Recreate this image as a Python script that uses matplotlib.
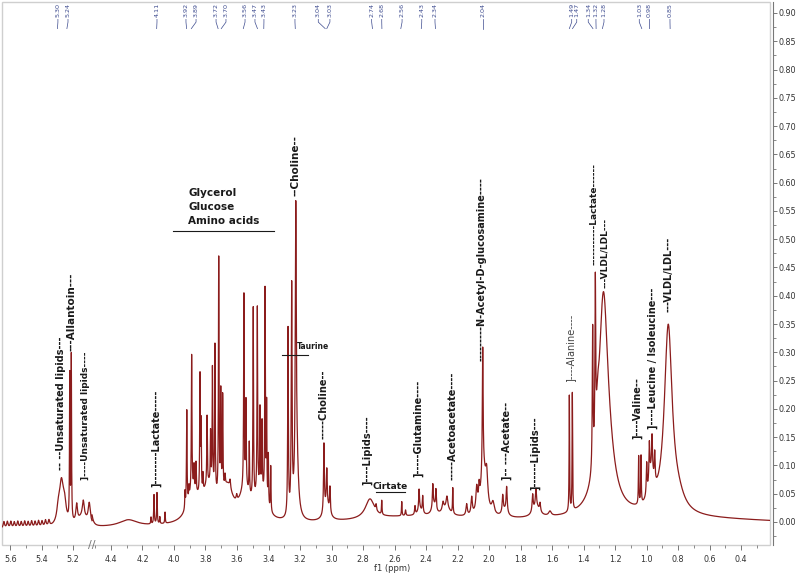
import numpy as np
import matplotlib
matplotlib.use('Agg')
import matplotlib.pyplot as plt
from matplotlib.patches import Rectangle

# ---- spectrum lines: (ppm, height, half width) ----
ripple_lines = [(5.640, 0.011, 0.005), (5.618, 0.011, 0.005), (5.596, 0.011, 0.005),
                (5.574, 0.010, 0.005), (5.552, 0.011, 0.005), (5.530, 0.010, 0.005),
                (5.508, 0.011, 0.005), (5.486, 0.010, 0.005), (5.464, 0.011, 0.005),
                (5.442, 0.010, 0.005), (5.420, 0.011, 0.005), (5.398, 0.010, 0.005),
                (5.376, 0.011, 0.005), (5.354, 0.010, 0.005)]
lowfield_lines = [(5.295, 0.020, 0.010), (5.275, 0.075, 0.016), (5.255, 0.030, 0.012),
                  (5.222, 0.255, 0.0018), (5.212, 0.290, 0.0018),
                  (5.178, 0.030, 0.006), (5.136, 0.028, 0.007), (5.098, 0.035, 0.008),
                  (5.140, 0.018, 0.040), (4.530, 0.035, 0.012), (4.290, 0.012, 0.070),
                  (4.146, 0.012, 0.002), (4.127, 0.052, 0.0022), (4.108, 0.055, 0.0022),
                  (4.090, 0.012, 0.002), (4.057, 0.020, 0.002)]
sugar_lines = [(3.880, 0.050, 0.040), (3.780, 0.060, 0.050), (3.660, 0.055, 0.040),
               (3.550, 0.050, 0.040), (3.450, 0.050, 0.040),
               (3.930, 0.030, 0.002), (3.919, 0.170, 0.0022), (3.905, 0.020, 0.002),
               (3.888, 0.240, 0.0022), (3.873, 0.040, 0.002), (3.860, 0.050, 0.002),
               (3.835, 0.210, 0.0022), (3.828, 0.120, 0.002), (3.816, 0.030, 0.002),
               (3.790, 0.120, 0.0022), (3.768, 0.090, 0.002), (3.756, 0.210, 0.0022),
               (3.740, 0.260, 0.0022), (3.716, 0.420, 0.0022), (3.703, 0.180, 0.0022),
               (3.691, 0.170, 0.0022), (3.676, 0.020, 0.003), (3.644, 0.015, 0.004),
               (3.602, 0.010, 0.004), (3.556, 0.340, 0.0022), (3.543, 0.150, 0.0022),
               (3.522, 0.090, 0.002), (3.497, 0.340, 0.0022), (3.471, 0.330, 0.0022),
               (3.454, 0.140, 0.002), (3.441, 0.120, 0.002), (3.422, 0.370, 0.0022),
               (3.412, 0.170, 0.002), (3.401, 0.090, 0.002), (3.386, 0.080, 0.002)]
choline_lines = [(3.276, 0.330, 0.0025), (3.253, 0.400, 0.003), (3.227, 0.460, 0.0035),
                 (3.222, 0.120, 0.012), (3.048, 0.120, 0.003), (3.030, 0.060, 0.003),
                 (3.010, 0.045, 0.003), (3.030, 0.030, 0.020)]
mid_lines = [(2.756, 0.035, 0.035), (2.717, 0.010, 0.003), (2.681, 0.025, 0.002),
             (2.554, 0.025, 0.002), (2.530, 0.010, 0.003),
             (2.470, 0.015, 0.003), (2.444, 0.035, 0.003), (2.421, 0.030, 0.003),
             (2.440, 0.012, 0.015), (2.357, 0.040, 0.003), (2.337, 0.035, 0.003),
             (2.350, 0.018, 0.015), (2.292, 0.015, 0.006), (2.267, 0.020, 0.006),
             (2.270, 0.015, 0.030), (2.230, 0.045, 0.002),
             (2.142, 0.020, 0.005), (2.110, 0.030, 0.005), (2.078, 0.040, 0.006),
             (2.063, 0.030, 0.004), (2.040, 0.220, 0.003), (2.035, 0.080, 0.020),
             (2.015, 0.050, 0.008), (1.975, 0.020, 0.010),
             (1.913, 0.030, 0.004), (1.888, 0.045, 0.004), (1.900, 0.012, 0.020),
             (1.723, 0.030, 0.004), (1.702, 0.030, 0.004), (1.700, 0.020, 0.025),
             (1.676, 0.015, 0.004), (1.613, 0.008, 0.010)]
highfield_lines = [(1.490, 0.205, 0.0018), (1.471, 0.210, 0.0018),
                   (1.342, 0.245, 0.0028), (1.325, 0.285, 0.0028),
                   (1.274, 0.360, 0.035), (1.240, 0.050, 0.050), (1.310, 0.050, 0.010),
                   (1.050, 0.085, 0.002), (1.035, 0.085, 0.002),
                   (0.999, 0.055, 0.003), (0.982, 0.065, 0.003), (0.965, 0.060, 0.003),
                   (0.948, 0.050, 0.003), (0.970, 0.055, 0.020),
                   (0.862, 0.330, 0.030), (0.800, 0.020, 0.050)]
background_lines = [(0.900, 0.018, 1.200), (2.500, 0.015, 0.500)]
baseline = -0.013

# peak picking labels on top (value, where the text sits)
pick_values = [5.30, 5.24, 4.11, 3.92, 3.89, 3.72, 3.70, 3.56, 3.47, 3.43, 3.23,
               3.04, 3.03, 2.74, 2.68, 2.56, 2.43, 2.34, 2.04, 1.49, 1.47, 1.34,
               1.32, 1.28, 1.03, 0.98, 0.85]
pick_text_at = [5.297, 5.233, 4.108, 3.924, 3.860, 3.733, 3.670, 3.549, 3.486, 3.429,
                3.232, 3.084, 3.010, 2.745, 2.681, 2.552, 2.427, 2.343, 2.040, 1.475,
                1.443, 1.370, 1.321, 1.270, 1.046, 0.982, 0.851]

# metabolite assignments (rotated)
metab_text = ['-- --Unsaturated lipids---', '---Allantoin---', ']----Unsaturated lipids----',
              ']--------Lactate-----', '--Choline--', '-----Choline--', ']----Lipids----',
              ']-----Glutamine----', '-----Acetoacetate----',
              '---------N-Acetyl-D-glucosamine----', ']-- ---Acetate--', ']------Lipids---',
              ']----Alanine----', '-----------Lactate------', '---VLDL/LDL---',
              ']----Valine--', ']----Leucine / Isoleucine---', '---VLDL/LDL---']
metab_ppm = [5.279, 5.210, 5.125, 4.111, 3.229, 3.048, 2.771, 2.451, 2.230, 2.046,
             1.888, 1.708, 1.486, 1.336, 1.268, 1.062, 0.957, 0.862]
metab_base = [0.092, 0.303, 0.075, 0.062, 0.577, 0.146, 0.066, 0.080, 0.075, 0.285,
              0.075, 0.057, 0.247, 0.454, 0.413, 0.146, 0.164, 0.372]
metab_size = [7, 7.5, 6.5, 7, 7.5, 7, 7, 7, 7, 7, 7, 7, 7, 6.5, 6.5, 7, 7, 7]
metab_bold = [True] * 12 + [False] + [True] * 5

group_lines = ['Glycerol', 'Glucose', 'Amino acids']

# broken ppm axis
BRK_HI, BRK_LO = 5.08, 4.52
GAP = BRK_HI - BRK_LO


def fwd(p):
    p = np.asarray(p, float)
    return np.where(p >= BRK_HI, p - GAP, np.minimum(p, BRK_LO))


def inv(u):
    u = np.asarray(u, float)
    return np.where(u > BRK_LO, u + GAP, u)


ppm = np.concatenate([np.arange(5.652, BRK_HI, -0.0004), [np.nan],
                      np.arange(BRK_LO, 0.214, -0.0004)])
spec = np.full_like(ppm, baseline)
for group in (ripple_lines, lowfield_lines, sugar_lines, choline_lines, mid_lines,
              highfield_lines, background_lines):
    for p0, h, w in group:
        spec += h / (1.0 + ((ppm - p0) / w) ** 2)

fig = plt.figure(figsize=(8, 5.75), dpi=100)
ax = fig.add_axes([0.0025, 0.0522, 0.96, 0.9443])
ax.set_xscale('function', functions=(fwd, inv))
ax.plot(ppm, spec, color='#8b1c1c', lw=0.9)
ax.set_xlim(5.652, 0.216)
ax.set_ylim(-0.0407, 0.9194)

# frame + axes styling
for s in ('left', 'top', 'bottom'):
    ax.spines[s].set_visible(False)
ax.add_patch(Rectangle((0, 0), 1, 1, transform=ax.transAxes, fill=False,
                       ec='#cfcfcf', lw=1, clip_on=False))
ax.spines['right'].set_position(('outward', 2))
ax.spines['right'].set_color('#777777')
ax.spines['right'].set_linewidth(0.8)
ax.yaxis.tick_right()
yt = np.arange(0, 0.91, 0.05)
ax.set_yticks(yt)
ax.set_yticklabels([f'{v:.2f}' for v in yt])
ax.set_yticks(np.arange(-0.025, 0.92, 0.05), minor=True)
ax.tick_params(axis='y', which='major', length=3, width=0.7, color='#777777',
               labelsize=5.8, labelcolor='#333333', pad=1)
ax.tick_params(axis='y', which='minor', length=2, width=0.6, color='#777777')

xt = [5.6, 5.4, 5.2] + [round(v, 1) for v in np.arange(4.4, 0.35, -0.2)]
ax.set_xticks(xt)
ax.set_xticklabels([f'{v:.1f}' for v in xt])
xm = [5.5, 5.3] + [round(v, 1) for v in np.arange(4.5, 0.25, -0.2)]
ax.set_xticks(xm, minor=True)
ax.tick_params(axis='x', which='major', length=3.5, width=0.7, color='#777777',
               labelsize=5.8, labelcolor='#333333', pad=3.5)
ax.tick_params(axis='x', which='minor', length=2, width=0.6, color='#777777')
ax.text(BRK_LO, 0, '//', transform=ax.get_xaxis_transform(), ha='center', va='center',
        fontsize=8, color='#777777', clip_on=False)
fig.text(0.49, 0.003, 'f1 (ppm)', ha='center', va='bottom', fontsize=6, color='#333333')

# peak picking marks
trx = ax.get_xaxis_transform()
for val, tx in zip(pick_values, pick_text_at):
    ax.text(tx, 0.972, f'{val:.2f}', rotation=90, ha='center', va='bottom',
            fontsize=4.6, color='#3c4a8e', transform=trx)
    ax.plot([tx, tx, val], [0.968, 0.963, 0.951], color='#3c4a8e', lw=0.5, transform=trx)

# metabolite labels
lab_font = ['Liberation Sans Narrow', 'DejaVu Sans']
for txt, xp, yb, fs, bold in zip(metab_text, metab_ppm, metab_base, metab_size, metab_bold):
    ax.text(xp, yb, txt, rotation=90, ha='center', va='bottom', fontsize=fs,
            family=lab_font, fontweight='bold' if bold else 'normal',
            color='#1a1a1a' if bold else '#444444')

for i, name in enumerate(group_lines):
    ax.text(3.911, 0.582 - i * 0.025, name, ha='left', va='center', fontsize=7.5,
            family=lab_font, fontweight='bold', color='#1a1a1a')
ax.plot([4.006, 3.365], [0.515, 0.515], color='#1a1a1a', lw=0.8)

ax.text(3.217, 0.31, 'Taurine', ha='left', va='center', fontsize=5.5,
        family=lab_font, fontweight='bold', color='#1a1a1a')
ax.plot([3.316, 3.149], [0.295, 0.295], color='#1a1a1a', lw=0.8)

ax.text(2.629, 0.062, 'Cirtate', ha='center', va='center', fontsize=6.5,
        family=lab_font, fontweight='bold', color='#1a1a1a')
ax.plot([2.717, 2.533], [0.053, 0.053], color='#1a1a1a', lw=0.8)

fig.savefig('out.png', dpi=100)
